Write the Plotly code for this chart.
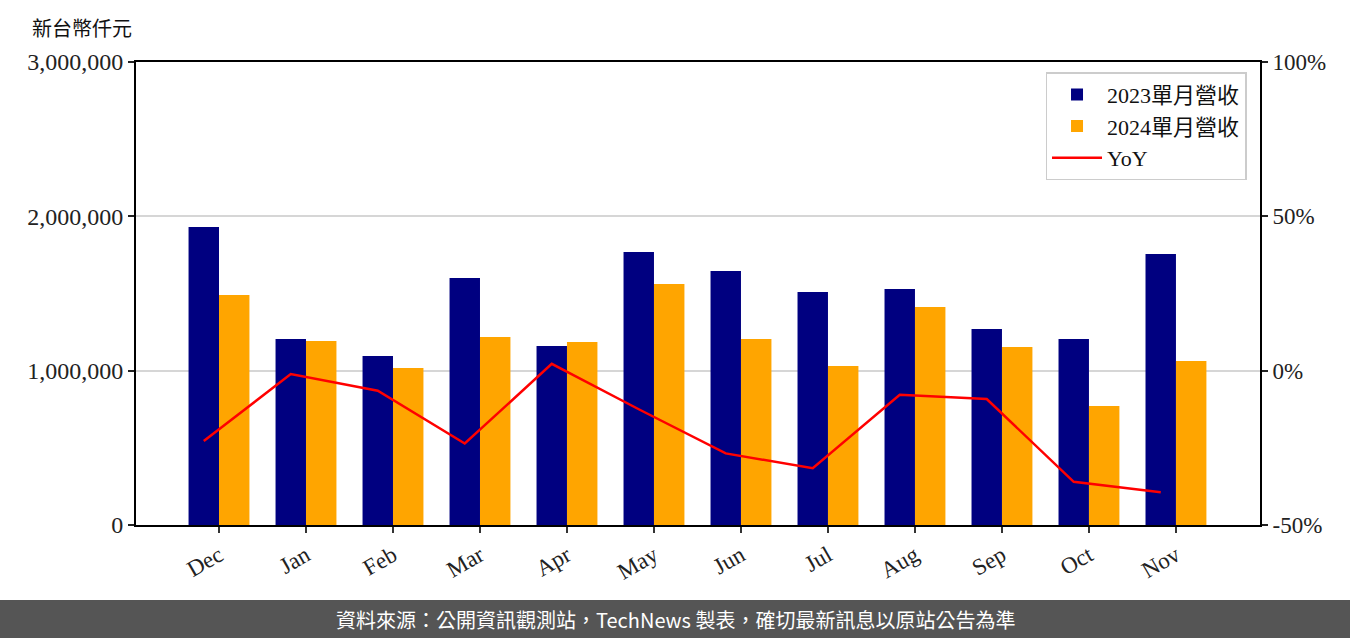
import plotly.graph_objects as go

months = ["Dec", "Jan", "Feb", "Mar", "Apr", "May", "Jun", "Jul", "Aug", "Sep", "Oct", "Nov"]
rev_2023 = [1931000, 1205000, 1095000, 1600000, 1160000, 1769000, 1646000, 1510000, 1529000, 1270000, 1205000, 1756000]
rev_2024 = [1490000, 1192000, 1017000, 1218000, 1186000, 1562000, 1205000, 1030000, 1413000, 1153000, 771000, 1063000]
yoy_pct = [-22.8, -1.1, -6.5, -23.6, 2.2, -12.5, -26.8, -31.6, -7.8, -9.2, -36.0, -39.4]

left_ticks = [0, 1000000, 2000000, 3000000]
left_ticktext = ["0", "1,000,000", "2,000,000", "3,000,000"]
right_ticks = [-50, 0, 50, 100]
right_ticktext = ["-50%", "0%", "50%", "100%"]

bar_w = 0.35
idx = list(range(len(months)))
x23 = [i - bar_w / 2 for i in idx]
x24 = [i + bar_w / 2 for i in idx]

SERIF = "Liberation Serif, DejaVu Serif, Noto Sans CJK TC, serif"
CJK = "Noto Sans CJK TC, sans-serif"

fig = go.Figure()
fig.add_trace(go.Bar(x=x23, y=rev_2023, width=bar_w, name="2023單月營收",
                     marker=dict(color="#000080", line=dict(width=0))))
fig.add_trace(go.Bar(x=x24, y=rev_2024, width=bar_w, name="2024單月營收",
                     marker=dict(color="#FFA500", line=dict(width=0))))
fig.add_trace(go.Scatter(x=x23, y=yoy_pct, name="YoY", mode="lines",
                         line=dict(color="#FF0000", width=2.5), yaxis="y2"))

fig.update_layout(
    width=1350, height=638,
    margin=dict(l=136, r=90, t=62, b=113),
    paper_bgcolor="white", plot_bgcolor="white",
    barmode="overlay",
    showlegend=True,
    font=dict(family=SERIF, size=20, color="#111"),
    xaxis=dict(
        range=[-0.954, 11.966], tickvals=idx, ticktext=months, tickangle=-30,
        showgrid=False, zeroline=False, showline=True, linecolor="black", linewidth=2,
        mirror=True, ticks="outside", ticklen=6, tickwidth=1.5, tickcolor="#333",
        tickfont=dict(family=SERIF, size=23, color="#222"),
    ),
    yaxis=dict(
        range=[0, 3000000], tickvals=left_ticks, ticktext=left_ticktext,
        showgrid=True, gridcolor="#d6d6d6", gridwidth=1.5, zeroline=False,
        showline=True, linecolor="black", linewidth=2,
        ticks="outside", ticklen=6, tickwidth=1.5, tickcolor="#222",
        tickfont=dict(family=SERIF, size=24, color="#222"),
    ),
    yaxis2=dict(
        range=[-50, 100], tickvals=right_ticks, ticktext=right_ticktext,
        overlaying="y", side="right", showgrid=False, zeroline=False,
        showline=True, linecolor="black", linewidth=2,
        ticks="outside", ticklen=6, tickwidth=1.5, tickcolor="#222",
        tickfont=dict(family=SERIF, size=23, color="#222"),
    ),
    legend=dict(
        x=0.988, y=0.978, xanchor="right", yanchor="top",
        bgcolor="rgba(255,255,255,0.85)", bordercolor="#cccccc", borderwidth=1.5,
        font=dict(family=SERIF, size=22, color="#111"),
        tracegroupgap=4, itemwidth=50,
    ),
)

# Axis unit label
fig.add_annotation(text="新台幣仟元", xref="paper", yref="paper",
                   x=(30 - 136) / 1124, y=(525 - 27) / 463, xanchor="left", yanchor="middle",
                   showarrow=False, font=dict(family=CJK, size=20, color="#111"))

# Footer band
fig.add_shape(type="rect", xref="paper", yref="paper",
              x0=-0.125, x1=1.085, y0=-0.2445, y1=(525 - 600) / 463,
              fillcolor="#555555", line=dict(width=0), layer="above")
fig.add_annotation(text="資料來源：公開資訊觀測站，TechNews 製表，確切最新訊息以原站公告為準",
                   xref="paper", yref="paper", x=(675 - 136) / 1124, y=(525 - 619) / 463,
                   xanchor="center", yanchor="middle", showarrow=False,
                   font=dict(family=CJK, size=20, color="white"))

fig.write_html("out.html", config={"displayModeBar": False},
               post_script="document.body.style.margin='0';document.body.style.overflow='hidden';")
